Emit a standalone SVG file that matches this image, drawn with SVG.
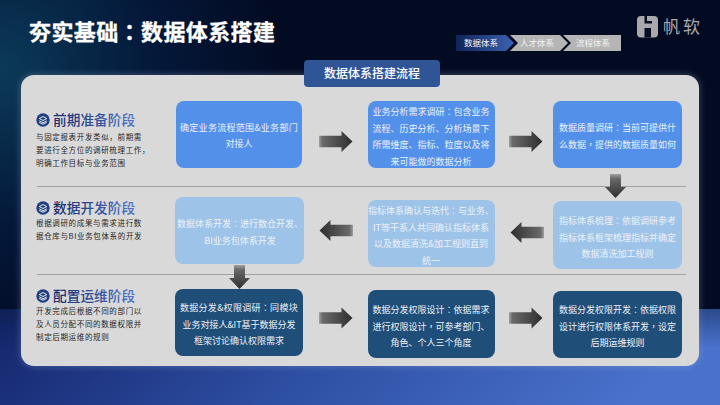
<svg xmlns="http://www.w3.org/2000/svg" width="720" height="405" viewBox="0 0 720 405">
<style>
text{font-family:"Noto Sans CJK SC","Liberation Sans",sans-serif}
.p{font-family:"Noto Sans CJK TC","Noto Sans CJK SC",sans-serif}
.c{font-size:9px;fill:#eef2f8;text-anchor:middle}
.h{font-size:13.700px;fill:url(#hg);font-weight:500}
.d{font-size:7.500px;fill:#262626;letter-spacing:.65px}
.sep{stroke:#a0a0a0;stroke-width:1}
.crumb{font-size:8.500px;fill:#f4f4f4;text-anchor:middle}
.b1{fill:#5390ea}.b2{fill:#9dc3e8}.b3{fill:#1f4e79}
</style>
<defs>
<radialGradient id="bgl" gradientUnits="userSpaceOnUse" cx="0" cy="70" r="280">
<stop offset="0" stop-color="#0c3a58"/><stop offset="0.55" stop-color="#04183a"/><stop offset="1" stop-color="#030b22"/>
</radialGradient>
<linearGradient id="bot" x1="0" y1="0" x2="1" y2="0.15">
<stop offset="0" stop-color="#14246a"/><stop offset="0.5" stop-color="#2d4ea2"/><stop offset="1" stop-color="#4a72cc"/>
</linearGradient>
<linearGradient id="botv" x1="0" y1="0" x2="0" y2="1">
<stop offset="0" stop-color="#061a3a"/><stop offset="1" stop-color="#0a1f50" stop-opacity="0"/>
</linearGradient>
<linearGradient id="hg" x1="0" y1="0" x2="1" y2="0">
<stop offset="0" stop-color="#1a2a6a"/><stop offset="1" stop-color="#4a72c4"/>
</linearGradient>
<linearGradient id="cr" x1="0" y1="0" x2="1" y2="0">
<stop offset="0" stop-color="#0f2458"/><stop offset="1" stop-color="#3a62b4"/>
</linearGradient>
<linearGradient id="ar" x1="0" y1="0" x2="1" y2="0">
<stop offset="0" stop-color="#a0a0a0"/><stop offset="0.1" stop-color="#6a6a6a"/><stop offset="1" stop-color="#2e2e2e"/>
</linearGradient>
<linearGradient id="av" x1="0" y1="0" x2="0" y2="1">
<stop offset="0" stop-color="#a0a0a0"/><stop offset="0.2" stop-color="#686868"/><stop offset="1" stop-color="#2e2e2e"/>
</linearGradient>
<filter id="glow" x="-5%" y="-5%" width="110%" height="110%"><feGaussianBlur stdDeviation="3"/></filter>
<path id="arr" d="M0-5.700H22.500V-10.500L33.500 0 22.500 10.500V5.700H0Z"/>
<path id="ard" d="M-5.500 0H5.500V13H10.500L0 24-10.500 13H-5.500Z"/>
<g id="ic"><circle r="6.700" fill="#1f3f7f"/><path d="M-3.800-1.500 0-3.500 3.800-1.500 0 .5Z M-3.800 .8 0 2.700 3.800 .8 M-3.800 2.400 0 4.300 3.800 2.400" fill="none" stroke="#e4e8f0" stroke-width="1"/></g>
</defs>
<g id="background">
<rect width="720" height="405" fill="url(#bgl)"/>
<rect y="309" width="720" height="96" fill="url(#bot)"/>
<rect y="309" width="720" height="40" fill="url(#botv)" opacity=".45"/>
</g>
<rect x="20" y="74" width="680" height="293" rx="14" fill="#9fb4d8" opacity=".3" filter="url(#glow)"/>
<rect id="panel" x="21" y="75" width="678" height="291" rx="13" fill="#d9d9d9"/>
<text x="29" y="40" font-size="22" font-weight="700" fill="#fff" stroke="#fff" stroke-width=".3" letter-spacing=".4">夯实基础<tspan class="p">：</tspan>数据体系搭建</text>
<g id="crumbs">
<path d="M456 35H506L514 43 506 51H456Z" fill="url(#cr)"/>
<path d="M510 35H560L568 43 560 51H510L518 43Z" fill="#b5b5b5"/>
<path d="M563 35H621V51H563L571 43Z" fill="#b5b5b5"/>
<text class="crumb" x="481" y="46">数据体系</text>
<text class="crumb" x="537" y="46">人才体系</text>
<text class="crumb" x="593" y="46">流程体系</text>
</g>
<g id="logo">
<rect x="637" y="16" width="21" height="21.500" rx="4" fill="#a9a9a9"/>
<path d="M644.500 16H647V21H652V23.500H644.500ZM644.500 28H651V37.500H644.500Z" fill="#050d24"/>
<text x="663" y="33" font-size="17" letter-spacing="3" fill="#a9a9a9">帆软</text>
</g>
<g id="header">
<rect x="304" y="60" width="136" height="27" rx="4" fill="#2f5597"/>
<text x="372" y="78" font-size="12" font-weight="500" fill="#fff" text-anchor="middle">数据体系搭建流程</text>
</g>
<line class="sep" x1="37" y1="186.500" x2="686" y2="186.500"/>
<line class="sep" x1="37" y1="274.500" x2="686" y2="274.500"/>
<g id="phase1">
<use href="#ic" x="43" y="120"/>
<text class="h" x="53" y="125">前期准备阶段</text>
<text class="d" x="36" y="140">与固定报表开发类似，前期需</text>
<text class="d" x="36" y="153">要进行全方位的调研梳理工作，</text>
<text class="d" x="36" y="166">明确工作目标与业务范围</text>
</g>
<g id="phase2">
<use href="#ic" x="43" y="208"/>
<text class="h" x="53" y="213">数据开发阶段</text>
<text class="d" x="36" y="226">根据调研的成果与需求进行数</text>
<text class="d" x="36" y="239">据仓库与BI业务包体系的开发</text>
</g>
<g id="phase3">
<use href="#ic" x="43" y="296"/>
<text class="h" x="53" y="301">配置运维阶段</text>
<text class="d" x="36" y="314">开发完成后根据不同的部门以</text>
<text class="d" x="36" y="327">及人员分配不同的数据权限并</text>
<text class="d" x="36" y="340">制定后期运维的规则</text>
</g>
<g id="n1"><rect class="b1" x="176" y="101" width="126" height="67" rx="8"/>
<text class="c" x="239" y="131" letter-spacing=".3">确定业务流程范围&amp;业务部门</text><text class="c" x="239" y="147">对接人</text></g>
<g id="n2"><rect class="b1" x="368" y="101" width="127" height="67" rx="8"/>
<text class="c" x="431" y="115">业务分析需求调研<tspan class="p">：</tspan>包含业务</text><text class="c" x="431" y="131.500">流程、历史分析、分析场景下</text><text class="c" x="431" y="148">所需维度、指标、粒度以及将</text><text class="c" x="431" y="164.500">来可能做的数据分析</text></g>
<g id="n3"><rect class="b1" x="553" y="101" width="129" height="67" rx="8"/>
<text class="c" x="617.500" y="131">数据质量调研<tspan class="p">：</tspan>当前可提供什</text><text class="c" x="617.500" y="147.500">么数据<tspan class="p">，</tspan>提供的数据质量如何</text></g>
<g id="n4"><rect class="b2" x="175" y="197" width="129" height="67" rx="8"/>
<text class="c" x="240" y="227">数据体系开发<tspan class="p">：</tspan>进行数仓开发、</text><text class="c" x="240" y="243.500">BI业务包体系开发</text></g>
<g id="n5"><rect class="b2" x="368" y="200" width="127" height="67" rx="8"/>
<text class="c" x="431" y="214">指标体系确认与迭代<tspan class="p">：</tspan>与业务、</text><text class="c" x="431" y="230.500">IT等干系人共同确认指标体系</text><text class="c" x="431" y="247">以及数据清洗&amp;加工规则直到</text><text class="c" x="431" y="263.500">统一</text></g>
<g id="n6"><rect class="b2" x="553" y="201" width="129" height="68" rx="8"/>
<text class="c" x="617.500" y="224">指标体系梳理<tspan class="p">：</tspan>依据调研参考</text><text class="c" x="617.500" y="240.500">指标体系框架梳理指标并确定</text><text class="c" x="617.500" y="257">数据清洗加工规则</text></g>
<g id="n7"><rect class="b3" x="175" y="289" width="128" height="67" rx="8"/>
<text class="c" x="239" y="311" letter-spacing=".3">数据分发&amp;权限调研<tspan class="p">：</tspan>同模块</text><text class="c" x="239" y="327.500">业务对接人&amp;IT基于数据分发</text><text class="c" x="239" y="344">框架讨论确认权限需求</text></g>
<g id="n8"><rect class="b3" x="368" y="290" width="127" height="68" rx="8"/>
<text class="c" x="431" y="313">数据分发权限设计<tspan class="p">：</tspan>依据需求</text><text class="c" x="431" y="329.500">进行权限设计<tspan class="p">，</tspan>可参考部门、</text><text class="c" x="431" y="346">角色、个人三个角度</text></g>
<g id="n9"><rect class="b3" x="553" y="291" width="129" height="67" rx="8"/>
<text class="c" x="617.500" y="313">数据分发权限开发<tspan class="p">：</tspan>依据权限</text><text class="c" x="617.500" y="329.500">设计进行权限体系开发<tspan class="p">，</tspan>设定</text><text class="c" x="617.500" y="346">后期运维规则</text></g>
<g id="connectors">
<use href="#arr" x="319" y="141.500" fill="url(#ar)"/>
<use href="#arr" x="509" y="141.500" fill="url(#ar)"/>
<use href="#ard" x="615.500" y="174" fill="url(#av)"/>
<use href="#arr" transform="translate(353 230.500) scale(-1 1)" fill="url(#ar)"/>
<use href="#arr" transform="translate(544 232.500) scale(-1 1)" fill="url(#ar)"/>
<use href="#ard" x="239.500" y="265" fill="url(#av)"/>
<use href="#arr" x="319" y="318" fill="url(#ar)"/>
<use href="#arr" x="509" y="318" fill="url(#ar)"/>
</g>
</svg>
